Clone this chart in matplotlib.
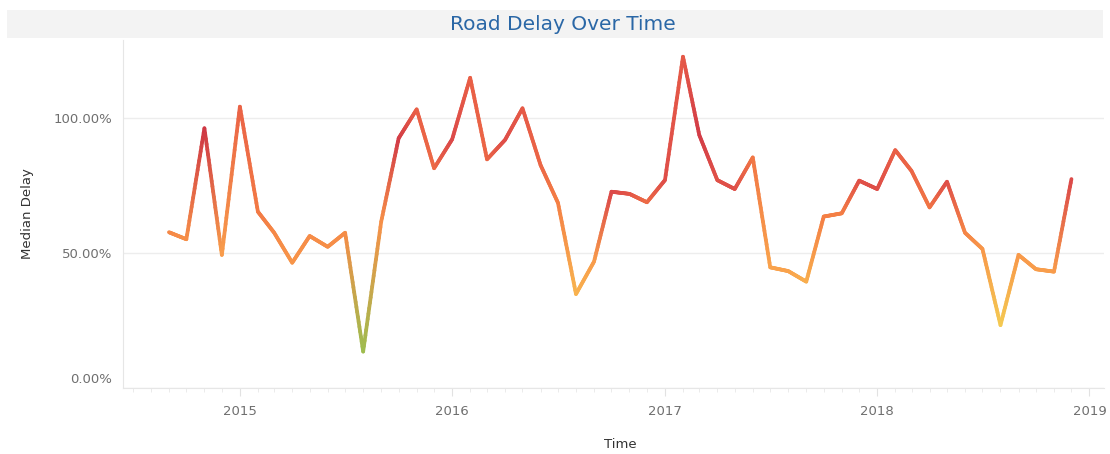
"""
Road delay over time, monthly median delay line coloured by delay level.
"""

import matplotlib
matplotlib.use("Agg")

import matplotlib.dates as mdates
import matplotlib.pyplot as plt
import numpy as np
import pandas as pd
from matplotlib.collections import LineCollection
from matplotlib.colors import LinearSegmentedColormap
from matplotlib.patches import Rectangle
from matplotlib.ticker import FixedLocator, PercentFormatter
from matplotlib.transforms import ScaledTranslation


MONTHS = [
    "2014-09", "2014-10", "2014-11", "2014-12",
    "2015-01", "2015-02", "2015-03", "2015-04", "2015-05", "2015-06",
    "2015-07", "2015-08", "2015-09", "2015-10", "2015-11", "2015-12",
    "2016-01", "2016-02", "2016-03", "2016-04", "2016-05", "2016-06",
    "2016-07", "2016-08", "2016-09", "2016-10", "2016-11", "2016-12",
    "2017-01", "2017-02", "2017-03", "2017-04", "2017-05", "2017-06",
    "2017-07", "2017-08", "2017-09", "2017-10", "2017-11", "2017-12",
    "2018-01", "2018-02", "2018-03", "2018-04", "2018-05", "2018-06",
    "2018-07", "2018-08", "2018-09", "2018-10", "2018-11", "2018-12",
]

# median delay, percent
MEDIAN_DELAY = [
    57.7, 55.1, 96.2, 49.3,
    104.2, 65.3, 57.5, 46.4, 56.3, 52.3,
    57.5, 13.5, 61.6, 92.5, 103.2, 81.4,
    92.1, 114.9, 84.7, 91.9, 103.6, 82.6,
    68.6, 34.8, 46.8, 72.7, 71.9, 68.8,
    77.0, 122.7, 93.7, 77.0, 73.7, 85.4,
    44.7, 43.3, 39.4, 63.5, 64.7, 76.8,
    73.7, 88.1, 80.4, 66.9, 76.4, 57.5,
    51.5, 23.3, 49.3, 44.0, 43.1, 77.4,
]

# colour measure (0 = low / green, 1 = high / dark red)
DELAY_LEVEL = [
    0.50, 0.45, 0.95, 0.38,
    0.70, 0.58, 0.50, 0.42, 0.48, 0.46,
    0.48, 0.00, 0.45, 0.92, 0.72, 0.66,
    0.85, 0.72, 0.68, 0.82, 0.75, 0.68,
    0.55, 0.25, 0.38, 0.85, 0.78, 0.65,
    0.82, 0.75, 0.92, 0.80, 0.82, 0.60,
    0.35, 0.35, 0.28, 0.55, 0.55, 0.80,
    0.82, 0.72, 0.68, 0.60, 0.82, 0.52,
    0.42, 0.12, 0.40, 0.38, 0.38, 0.85,
]

Y_TICKS = [0, 50, 100]
YEAR_TICKS = ["2015-01-01", "2016-01-01", "2017-01-01", "2018-01-01", "2019-01-01"]
YEAR_LABELS = ["2015", "2016", "2017", "2018", "2019"]

DELAY_CMAP = LinearSegmentedColormap.from_list(
    "delay",
    [
        (0.00, "#9dbd4f"),
        (0.12, "#f6ca52"),
        (0.35, "#f9a24c"),
        (0.55, "#f47f45"),
        (0.72, "#e95f46"),
        (0.88, "#d8444a"),
        (1.00, "#c72d40"),
    ],
)


def gradient_segments(x, y, level, steps=24):
    """
    Split each line piece into short segments, blending the RGB colours
    of its two end points.
    """

    segments = []
    colours = []

    point_colours = np.array([DELAY_CMAP(v) for v in level])

    for i in range(len(x) - 1):
        t = np.linspace(0, 1, steps + 1)
        xs = x[i] + (x[i + 1] - x[i]) * t
        ys = y[i] + (y[i + 1] - y[i]) * t

        for j in range(steps):
            segments.append([(xs[j], ys[j]), (xs[j + 1], ys[j + 1])])
            mid = (t[j] + t[j + 1]) / 2
            colours.append(
                point_colours[i] * (1 - mid) + point_colours[i + 1] * mid
            )

    return segments, colours


def main():
    fig = plt.figure(figsize=(11.1, 4.54), dpi=100)

    # title band
    fig.patches.append(
        Rectangle(
            (7 / 1110, 1 - 38 / 454),
            1096 / 1110,
            28 / 454,
            transform=fig.transFigure,
            facecolor="#f3f3f3",
            edgecolor="none",
            zorder=0,
        )
    )
    fig.text(
        563 / 1110,
        1 - 24 / 454,
        "Road Delay Over Time",
        ha="center",
        va="center",
        fontsize=14.5,
        color="#2a67a6",
    )

    ax = fig.add_axes([123 / 1110, 66 / 454, 981 / 1110, 348 / 454])

    x = mdates.date2num(pd.to_datetime(MONTHS))
    y = np.array(MEDIAN_DELAY)
    level = np.array(DELAY_LEVEL)

    segments, colours = gradient_segments(x, y, level)

    line = LineCollection(
        segments,
        colors=colours,
        linewidths=2.7,
        capstyle="round",
        joinstyle="round",
        zorder=3,
    )
    ax.add_collection(line)

    ax.set_xlim(
        mdates.date2num(pd.Timestamp("2014-06-14")),
        mdates.date2num(pd.Timestamp("2019-01-26")),
    )
    ax.set_ylim(0, 128.9)

    ax.set_yticks(Y_TICKS)
    ax.yaxis.set_major_formatter(PercentFormatter(xmax=100, decimals=2))
    ax.grid(axis="y", color="#ededed", linewidth=1)
    ax.set_axisbelow(True)

    ax.xaxis.set_major_locator(
        FixedLocator(mdates.date2num(pd.to_datetime(YEAR_TICKS)))
    )
    ax.set_xticklabels(YEAR_LABELS)
    ax.xaxis.set_minor_locator(mdates.MonthLocator())

    ax.tick_params(axis="y", length=0, pad=8, labelsize=9.5, labelcolor="#6f6f6f")
    ax.tick_params(
        axis="x",
        which="major",
        length=6,
        color="#e2e2e2",
        pad=6,
        labelsize=9.5,
        labelcolor="#6f6f6f",
    )
    ax.tick_params(axis="x", which="minor", length=3, color="#e8e8e8")

    for side in ["top", "right"]:
        ax.spines[side].set_visible(False)
    for side in ["left", "bottom"]:
        ax.spines[side].set_color("#e6e6e6")

    # lift the 0.00% label like the original
    zero_label = ax.yaxis.get_major_ticks()[0].label1
    zero_label.set_transform(
        zero_label.get_transform()
        + ScaledTranslation(0, 10 / 100, fig.dpi_scale_trans)
    )

    ax.set_ylabel("Median Delay", fontsize=9.5, color="#333333", va="center")
    ax.yaxis.set_label_coords(-95 / 981, 0.5)

    ax.set_xlabel("Time", fontsize=9.5, color="#333333", va="center")
    ax.xaxis.set_label_coords(497 / 981, -57 / 348)

    fig.savefig("out.png", dpi=100)
    plt.close(fig)


if __name__ == "__main__":
    main()
